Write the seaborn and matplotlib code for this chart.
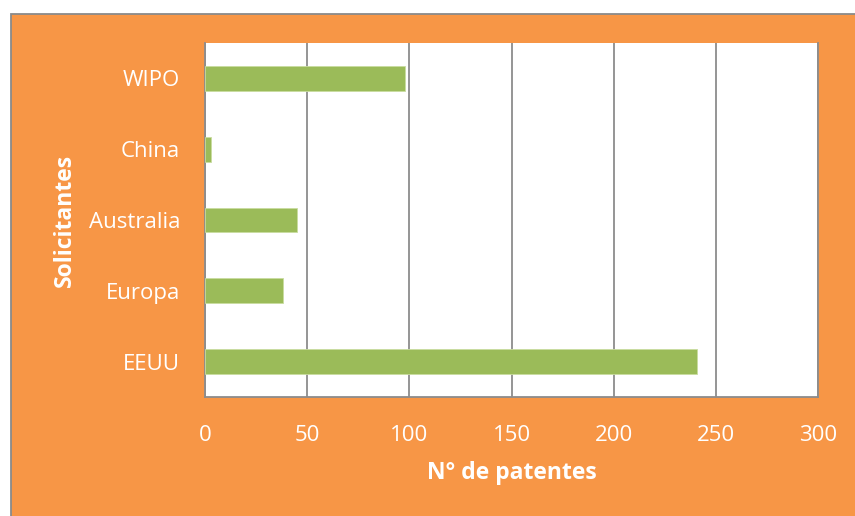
import matplotlib
matplotlib.use("Agg")
import matplotlib.pyplot as plt
from matplotlib.patches import Rectangle
import seaborn as sns
import pandas as pd

# Patent applications per office
solicitantes = ["WIPO", "China", "Australia", "Europa", "EEUU"]
patentes = [98, 3, 45, 38, 241]
x_ticks = [0, 50, 100, 150, 200, 250, 300]

ORANGE = "#F79646"
GREEN = "#9BBB59"
GRID = "#8C8C8C"

sns.set_theme(style="white")
plt.rcParams["font.family"] = ["Open Sans", "DejaVu Sans"]

df = pd.DataFrame({"Solicitantes": solicitantes, "Patentes": patentes})

fig = plt.figure(figsize=(8.55, 5.16), dpi=100, facecolor="white")

# Orange chart panel with a thin grey frame, kept beneath the axes
panel = Rectangle((10.5 / 855, -0.05), 1.2, 1 - 13.5 / 516 + 0.05,
                  transform=fig.transFigure, facecolor=ORANGE,
                  edgecolor="#8A8A8A", linewidth=1.3, zorder=-10)
fig.patches.append(panel)

ax = fig.add_axes([205 / 855, 1 - 397 / 516, (818 - 205) / 855, (397 - 43) / 516])
ax.set_facecolor("white")

sns.barplot(data=df, x="Patentes", y="Solicitantes", order=solicitantes,
            orient="h", color=GREEN, saturation=1, width=0.35, ax=ax,
            edgecolor="#C9DCA0", linewidth=0.6, zorder=3)

ax.set_xlim(0, 300)
ax.set_xticks(x_ticks)
ax.set_xticklabels([str(t) for t in x_ticks])
ax.xaxis.grid(True, color=GRID, linewidth=1.3, zorder=1)
ax.set_axisbelow(True)

for side in ["left", "bottom", "right"]:
    ax.spines[side].set_visible(True)
    ax.spines[side].set_color(GRID)
    ax.spines[side].set_linewidth(1.3)
ax.spines["top"].set_visible(False)

ax.tick_params(axis="both", length=0, colors="white", labelsize=16)
ax.tick_params(axis="y", pad=18)
ax.tick_params(axis="x", pad=20)

ax.set_xlabel("N° de patentes", color="white", fontsize=16.5,
              fontweight="bold", labelpad=11)
ax.set_ylabel("Solicitantes", color="white", fontsize=16.5,
              fontweight="bold", labelpad=8)

fig.savefig("out.png", dpi=100, facecolor="white")
